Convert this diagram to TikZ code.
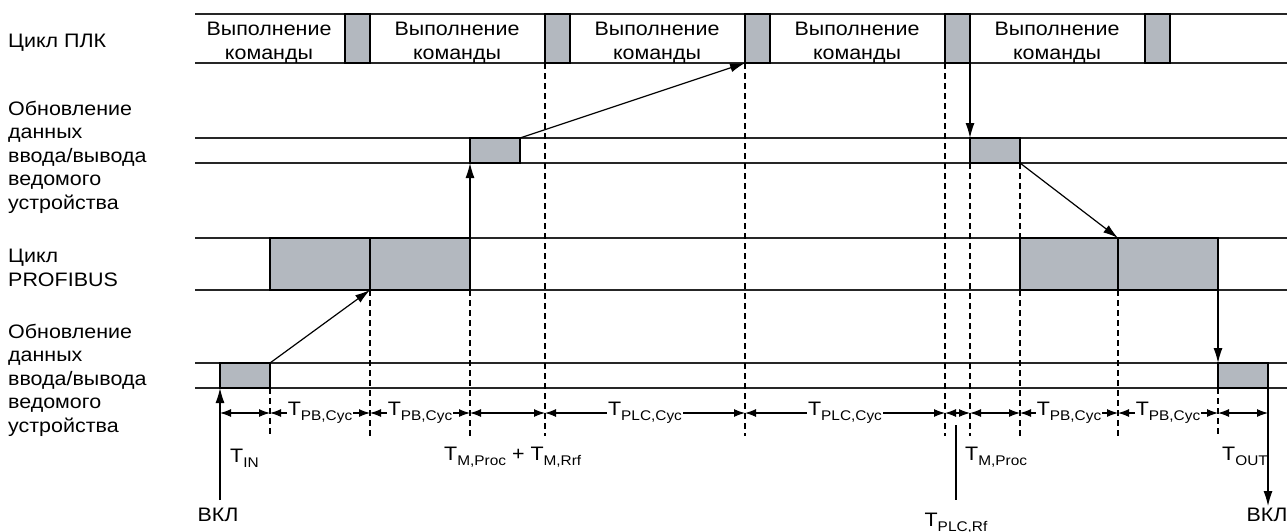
\documentclass[tikz,border=0pt]{standalone}
\usepackage{fontspec}
\setmainfont{Liberation Sans}[FakeStretch=1.1]
\usetikzlibrary{arrows.meta,calc}
\definecolor{blockgray}{RGB}{179,184,191}
\newcommand{\Tsub}[1]{T\raisebox{-5pt}{\fontsize{14}{14}\selectfont #1}}

\begin{document}
\begin{tikzpicture}[x=1pt, y=-1pt,
    every node/.style={font=\fontsize{19.5}{23.5}\selectfont, inner sep=0pt},
    rowline/.style={line width=1.3pt, black!85},
    blk/.style={draw, line width=1.2pt, fill=blockgray, anchor=north west, outer sep=0pt},
    guide/.style={line width=1.1pt, dash pattern=on 6pt off 4pt},
    flow/.style={line width=1.2pt, -{Latex[length=15pt,width=9pt]}},
    dim/.style={line width=1.1pt, {Latex[length=11pt,width=8pt]}-{Latex[length=11pt,width=8pt]}},
    lbl/.style={fill=white, inner sep=1pt}]
    \useasboundingbox (0,0) rectangle (1287,531);
    % row labels (base = last line)
    \node[anchor=base west] (lplc) at (8,47) {Цикл ПЛК};
    \node[anchor=base west, align=left] (lio) at (8,209) {Обновление\\данных\\ввода/вывода\\ведомого\\устройства};
    \node[anchor=base west, align=left] (lpb) at (8,286) {Цикл\\PROFIBUS};
    \node[anchor=base west, align=left] (lsl) at (8,432) {Обновление\\данных\\ввода/вывода\\ведомого\\устройства};
    % rows
    \foreach \y in {14,63,138,163,238,290,363,388}
      \draw[rowline] (195,\y) -- (1287,\y);
    % dashed guides
    \foreach \x/\y in {545/63,745/63,945/63,370/290,470/290,270/388,970/163,1020/290,1118/290,1218/388}
      \draw[guide] (\x,\y) -- (\x,436);
    \draw[guide] (1020,163) -- (1020,238);
    % PLC cycle
    \foreach \x [count=\i] in {345,545,745,945,1145}
      \node[blk, minimum width=25pt, minimum height=49pt] (plc\i) at (\x,14) {};
    \foreach \x [count=\i] in {269,457,657,857,1057}
      \node[anchor=base, align=center] (cmd\i) at (\x,59) {Выполнение\\команды};
    % slave update (upper)
    \node[blk, minimum width=50pt, minimum height=25pt] (io1) at (470,138) {};
    \node[blk, minimum width=50pt, minimum height=25pt] (io2) at (970,138) {};
    % PROFIBUS cycle
    \node[blk, minimum width=100pt, minimum height=52pt] (pb1) at (270,238) {};
    \node[blk, minimum width=100pt, minimum height=52pt] (pb2) at (370,238) {};
    \node[blk, minimum width=98pt, minimum height=52pt] (pb3) at (1020,238) {};
    \node[blk, minimum width=100pt, minimum height=52pt] (pb4) at (1118,238) {};
    % slave update (lower)
    \node[blk, minimum width=50pt, minimum height=25pt] (sl1) at (220,363) {};
    \node[blk, minimum width=50pt, minimum height=25pt] (sl2) at (1218,363) {};
    % data flow
    \draw[flow] (sl1.north east) -- (pb1.south east);
    \draw[flow] (pb2.north east) -- (io1.south west);
    \draw[flow] (io1.north east) -- (plc3.south west);
    \draw[flow] (plc4.south east) -- (io2.north west);
    \draw[flow] (io2.south east) -- (pb4.north west);
    \draw[flow] (pb4.south east) -- (sl2.north west);
    % on / off
    \node (on1) at (218,515) {ВКЛ};
    \coordinate (on1top) at (220,500);
    \draw[flow] (on1top) -- (sl1.south west);
    \node (on2) at (1267,515) {ВКЛ};
    \draw[flow, shorten >=2pt] (sl2.south east) -- (sl2.south east |- on2.north);
    % time spans
    \foreach \x [count=\i from 0] in {220,270,370,470,545,745,945,970,1020,1118,1218,1268}
      \coordinate (d\i) at (\x,413);
    \draw[dim] (d0) -- (d1);
    \draw[dim] (d1) -- node[lbl] (tpb1) {\Tsub{PB,Cyc}} (d2);
    \draw[dim] (d2) -- node[lbl] (tpb2) {\Tsub{PB,Cyc}} (d3);
    \draw[dim] (d3) -- (d4);
    \draw[dim] (d4) -- node[lbl] (tplc1) {\Tsub{PLC,Cyc}} (d5);
    \draw[dim] (d5) -- node[lbl] (tplc2) {\Tsub{PLC,Cyc}} (d6);
    \draw[dim] (d6) -- (d7);
    \draw[dim] (d7) -- (d8);
    \draw[dim] (d8) -- node[lbl] (tpb3) {\Tsub{PB,Cyc}} (d9);
    \draw[dim] (d9) -- node[lbl] (tpb4) {\Tsub{PB,Cyc}} (d10);
    \draw[dim] (d10) -- (d11);
    % time labels
    \node[anchor=base west] (tin) at (230,462) {\Tsub{IN}};
    \node[anchor=base west] (tmpr) at (444,460) {\Tsub{M,Proc} + \Tsub{M,Rrf}};
    \node[anchor=base west] (tmp) at (965,460) {\Tsub{M,Proc}};
    \node[anchor=base west] (tout) at (1222,460) {\Tsub{OUT}};
    \coordinate (rf) at (956,425);
    \node[anchor=base] (trf) at (956,526) {\Tsub{PLC,Rf}};
    \draw[line width=1.1pt] (rf) -- (rf |- 0,500);
  \end{tikzpicture}
\end{document}
